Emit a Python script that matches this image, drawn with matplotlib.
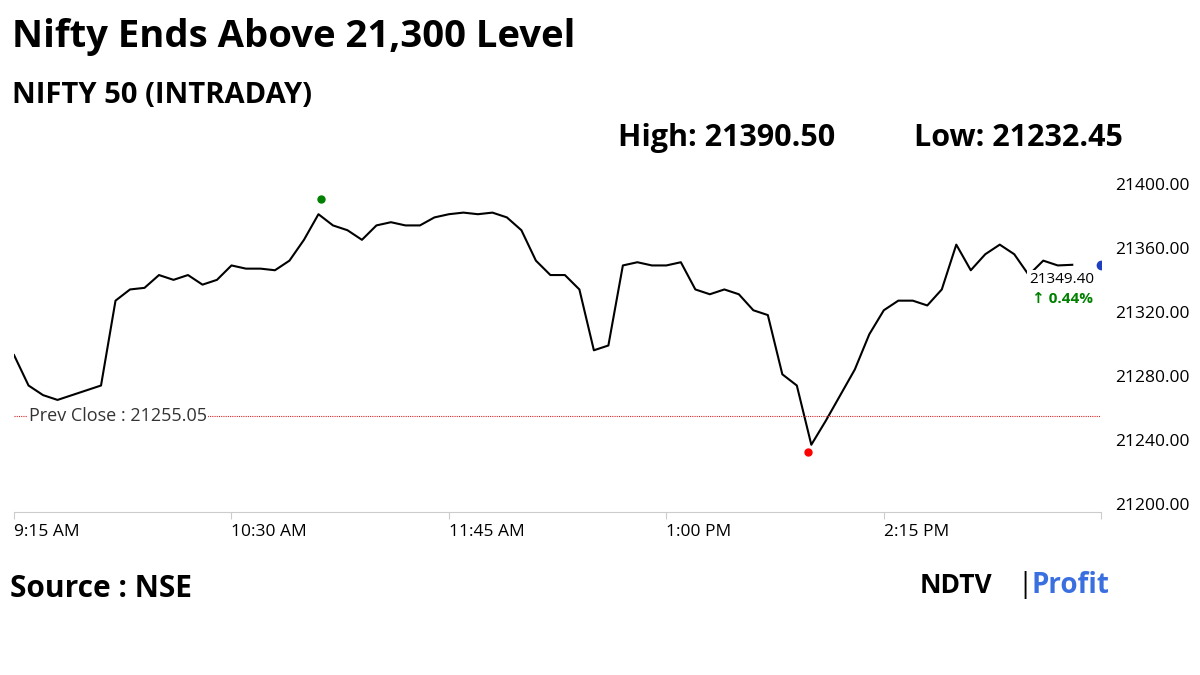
import matplotlib
matplotlib.use("Agg")
import matplotlib.pyplot as plt
import matplotlib.transforms as mtransforms
import pandas as pd

plt.rcParams["font.family"] = ["Open Sans", "DejaVu Sans"]

# 5-minute readings from 9:15 to 15:20
times = pd.date_range("2023-12-15 09:15", "2023-12-15 15:20", freq="5min")
values = [21293, 21274, 21268, 21265, 21268, 21271, 21274, 21327, 21334, 21335,
          21343, 21340, 21343, 21337, 21340, 21349, 21347, 21347, 21346, 21352,
          21365, 21381, 21374, 21371, 21365, 21374, 21376, 21374, 21374, 21379,
          21381, 21382, 21381, 21382, 21379, 21371, 21352, 21343, 21343, 21334,
          21296, 21299, 21349, 21351, 21349, 21349, 21351, 21334, 21331, 21334,
          21331, 21321, 21318, 21281, 21274, 21237, 21252, 21268, 21284, 21306,
          21321, 21327, 21327, 21324, 21334, 21362, 21346, 21356, 21362, 21356,
          21343, 21352, 21349, 21349.4]
prev_close = 21255.05
high_time, high_val = "2023-12-15 11:01", 21390.50
low_time, low_val = "2023-12-15 13:49", 21232.45
close_time, close_val = "2023-12-15 15:30", 21349.40
xtick_times = ["09:15", "10:30", "11:45", "13:00", "14:15", "15:30"]
xtick_labels = ["9:15 AM", "10:30 AM", "11:45 AM", "1:00 PM", "2:15 PM", ""]
yticks = [21200, 21240, 21280, 21320, 21360, 21400]

fig = plt.figure(figsize=(12, 6.75), dpi=100)
ax = fig.add_axes([0.0117, 0.2415, 0.906, 0.4995])
ax.plot(times[:len(values)], values, color="black", lw=1.5)
ax.axhline(prev_close, color="#d62728", lw=0.8, ls=(0, (1, 1)))
ax.text(pd.Timestamp("2023-12-15 09:20"), prev_close, f"Prev Close : {prev_close:.2f}",
        fontsize=13, color="#333333", va="center",
        bbox=dict(facecolor="white", edgecolor="none", pad=1))
ax.plot(pd.Timestamp(high_time), high_val, "o", color="green", ms=5)
ax.plot(pd.Timestamp(low_time), low_val, "o", color="red", ms=5)
ax.plot(pd.Timestamp(close_time), close_val, "o", color="#1f3fbf", ms=6)
ax.text(pd.Timestamp("2023-12-15 15:05"), 21340, f"{close_val:.2f}", fontsize=11,
        va="center", bbox=dict(facecolor="white", edgecolor="none", pad=1.5))
ax.text(pd.Timestamp("2023-12-15 15:06"), 21328, "↑ 0.44%", fontsize=11,
        color="green", va="center", fontweight="bold")

ax.set_ylim(21195, 21405.6)
ax.set_xlim(pd.Timestamp("2023-12-15 09:15"), pd.Timestamp("2023-12-15 15:30"))
ax.set_xticks([pd.Timestamp("2023-12-15 " + t) for t in xtick_times])
ax.set_xticklabels(xtick_labels, fontsize=12.5)
shift = mtransforms.ScaledTranslation(-4 / 100, 0, fig.dpi_scale_trans)
for i, lbl in enumerate(ax.get_xticklabels()):
    lbl.set_ha("left")
    if i > 0:
        lbl.set_transform(lbl.get_transform() + shift)
ax.set_yticks(yticks)
ax.set_yticklabels([f"{v:.2f}" for v in yticks], fontsize=12.5)
ax.yaxis.tick_right()
ax.tick_params(axis="y", length=0, pad=10)
ax.tick_params(axis="x", length=5, color="#cccccc")
for s in ["top", "left", "right"]:
    ax.spines[s].set_visible(False)
ax.spines["bottom"].set_color("#cccccc")

fig.text(0.01, 0.945, "Nifty Ends Above 21,300 Level", fontsize=27.5, fontweight="bold", va="center")
fig.text(0.01, 0.858, "NIFTY 50 (INTRADAY)", fontsize=21, fontweight="bold", va="center")
fig.text(0.515, 0.795, "High: 21390.50", fontsize=22, fontweight="bold", va="center")
fig.text(0.762, 0.795, "Low: 21232.45", fontsize=22, fontweight="bold", va="center")
fig.text(0.008, 0.128, "Source : NSE", fontsize=21.5, fontweight="bold", va="center")
fig.text(0.766, 0.133, "NDTV", fontsize=19, fontweight="bold", va="center")
fig.text(0.848, 0.133, "|", fontsize=20, va="center")
fig.text(0.860, 0.133, "Profit", fontsize=20, fontweight="bold", va="center", color="#3a6fe0")

fig.savefig("out.png", dpi=100)
